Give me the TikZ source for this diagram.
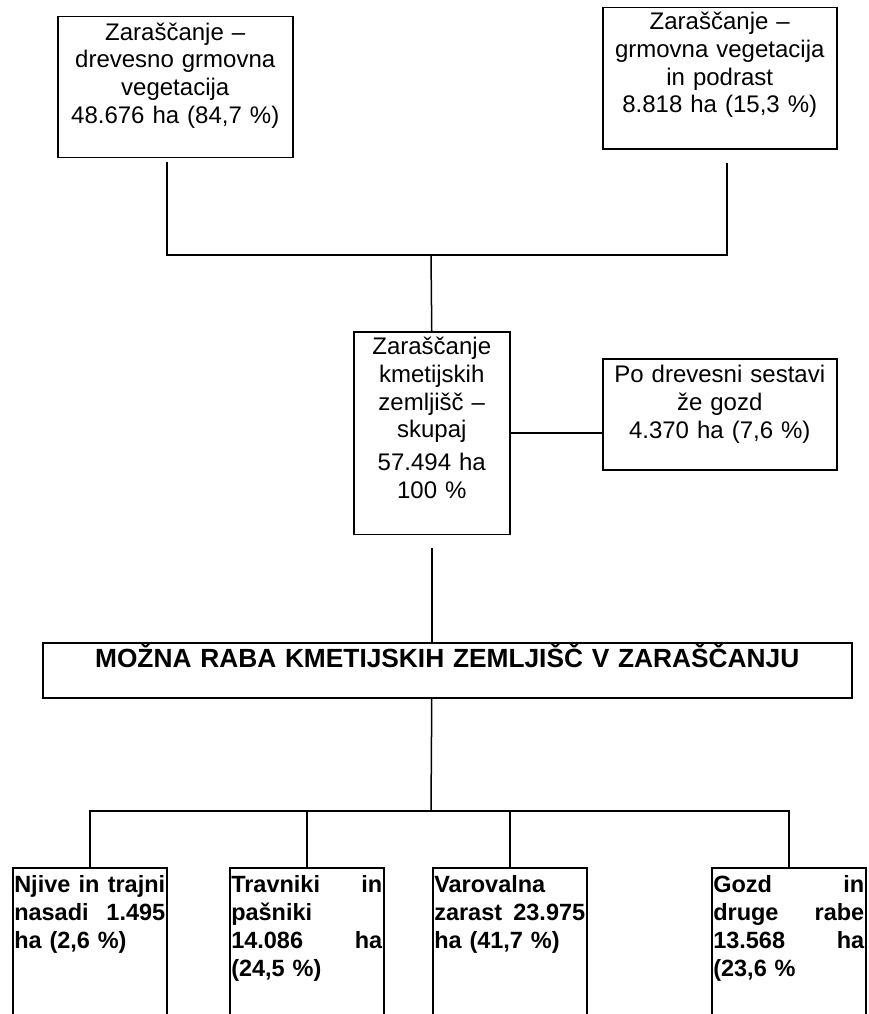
\documentclass[tikz,border=0pt]{standalone}
\usepackage{fontspec}
\setmainfont{Liberation Sans}
\usetikzlibrary{calc}
\newcommand{\jsline}[1]{\makebox[151pt][l]{#1}}
\begin{document}
\begin{tikzpicture}[x=1pt,y=-1pt,
  box/.style={draw, line width=1.5pt, inner xsep=0pt, inner ysep=0pt, align=center,
    font=\fontsize{24}{27.7}\selectfont, anchor=north west},
  usebox/.style={draw, line width=1.5pt, inner xsep=1.5pt, inner ysep=0pt, align=left,
    text width=151pt, font=\bfseries\fontsize{23.5}{27.8}\selectfont, anchor=north west},
  titlebox/.style={draw, line width=1.5pt, inner xsep=0pt, inner ysep=0pt, align=center,
    font=\bfseries\fontsize{26.3}{30}\selectfont, anchor=north west},
  conn/.style={line width=1.5pt}]
\useasboundingbox (0,0) rectangle (869,1014);
\clip (0,0) rectangle (869,1014);

\node[box, text width=235pt] (b1) at (57,16)
  {\rule{0pt}{23.5pt}Zaraščanje –\\drevesno grmovna\\vegetacija\\48.676 ha (84,7 \%)\rule[-34pt]{0pt}{34pt}};
\node[box, text width=234pt] (b2) at (602,7)
  {\rule{0pt}{22pt}Zaraščanje –\\grmovna vegetacija\\in podrast\\8.818 ha (15,3 \%)\rule[-36pt]{0pt}{36pt}};
\node[box, text width=156pt] (c) at (353,331)
  {\rule{0pt}{23pt}Zaraščanje\\kmetijskih\\zemljišč –\\skupaj\\[5.3pt]57.494 ha\\100 \%\rule[-36pt]{0pt}{36pt}};
\node[box, text width=234pt] (r) at (602,358)
  {\rule{0pt}{24pt}Po drevesni sestavi\\že gozd\\4.370 ha (7,6 \%)\rule[-31.6pt]{0pt}{31.6pt}};
\node[titlebox, text width=809pt] (t) at (42,642)
  {\rule{0pt}{25pt}MOŽNA RABA KMETIJSKIH ZEMLJIŠČ V ZARAŠČANJU\rule[-30pt]{0pt}{30pt}};

\node[usebox] (n1) at (12,867)
  {\rule{0pt}{25pt}\jsline{Njive\hfill in\hfill trajni}\\\jsline{nasadi\hfill 1.495}\\ha (2,6 \%)\rule[-200pt]{0pt}{200pt}};
\node[usebox] (n2) at (229,867)
  {\rule{0pt}{25pt}\jsline{Travniki\hfill in}\\pašniki\\\jsline{14.086\hfill ha}\\(24,5 \%)\rule[-200pt]{0pt}{200pt}};
\node[usebox] (n3) at (432,867)
  {\rule{0pt}{25pt}Varovalna\\\jsline{zarast\hfill 23.975}\\ha (41,7 \%)\rule[-200pt]{0pt}{200pt}};
\node[usebox] (n4) at (711,867)
  {\rule{0pt}{25pt}\jsline{Gozd\hfill in}\\\jsline{druge\hfill rabe}\\\jsline{13.568\hfill ha}\\(23,6 \%\rule[-200pt]{0pt}{200pt}};

\coordinate (j1) at (431,255);
\coordinate (j2) at (431,811);
\draw[conn] ([xshift=-8.5pt,yshift=-4pt]b1.south) |- (j1);
\draw[conn] ([xshift=7pt,yshift=-13pt]b2.south) |- (j1);
\draw[conn] (j1) -- (c.north);
\draw[conn] (c.east) -- (c.east -| r.west);
\draw[conn] ([yshift=-13pt]c.south) -- (c.south |- t.north);
\draw[conn] (c.south |- t.south) -- (j2);
\draw[conn] (n1.north) -- (n1.north |- j2) -- (n4.north |- j2) -- (n4.north);
\draw[conn] (n2.north) -- (n2.north |- j2);
\draw[conn] (n3.north) -- (n3.north |- j2);
\end{tikzpicture}
\end{document}
